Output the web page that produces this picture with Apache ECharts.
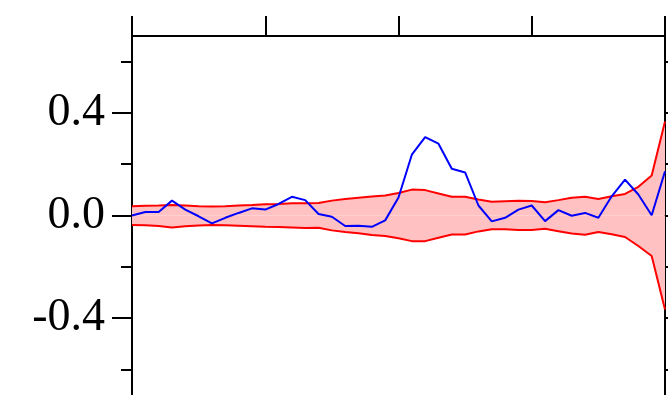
<!DOCTYPE html>
<html>
<head>
<meta charset="utf-8">
<script src="https://cdn.jsdelivr.net/npm/echarts@6/dist/echarts.min.js"></script>
<style>html,body{margin:0;padding:0;background:#fff;}#c{width:668px;height:395px;}</style>
</head>
<body>
<div id="c"></div>
<script>
var xTicks = [0, 10, 20, 30, 40];
var yLabelTicks = [-0.4, 0.0, 0.4];
var yMinorTicks = [-0.6, -0.2, 0.2, 0.6];
var yRightTicks = [-0.6, -0.4, -0.2, 0.0, 0.2, 0.4, 0.6];

var blue = [0.000, 0.014, 0.014, 0.058, 0.023, -0.003, -0.031, -0.009, 0.010, 0.028,
            0.023, 0.045, 0.073, 0.060, 0.006, -0.005, -0.041, -0.040, -0.044, -0.019,
            0.070, 0.237, 0.306, 0.280, 0.182, 0.168, 0.039, -0.023, -0.009, 0.023,
            0.039, -0.022, 0.021, -0.001, 0.010, -0.009, 0.075, 0.140, 0.082, 0.001,
            0.172];
var upper = [0.036, 0.038, 0.039, 0.041, 0.039, 0.036, 0.035, 0.036, 0.039, 0.041,
             0.044, 0.045, 0.048, 0.048, 0.049, 0.058, 0.064, 0.069, 0.074, 0.078,
             0.088, 0.101, 0.099, 0.086, 0.073, 0.073, 0.062, 0.054, 0.056, 0.058,
             0.057, 0.052, 0.060, 0.069, 0.073, 0.064, 0.075, 0.084, 0.112, 0.156,
             0.367];
var lower = [-0.037, -0.038, -0.041, -0.047, -0.042, -0.039, -0.037, -0.038, -0.040, -0.042,
             -0.044, -0.045, -0.047, -0.049, -0.048, -0.058, -0.064, -0.069, -0.076, -0.080,
             -0.089, -0.100, -0.100, -0.087, -0.074, -0.074, -0.062, -0.054, -0.054, -0.057,
             -0.057, -0.052, -0.061, -0.070, -0.075, -0.064, -0.073, -0.084, -0.119, -0.158,
             -0.367];

function pairs(arr) { return arr.map(function (v, i) { return [i, v]; }); }

var chart = echarts.init(document.getElementById('c'), null, {renderer: 'canvas'});
var axisLine = {show: true, onZero: false, lineStyle: {color: '#000', width: 2}};
var tickStyle = {color: '#000', width: 2};
var option = {
  animation: false,
  backgroundColor: '#fff',
  grid: {left: 132, top: 36, width: 533, height: 360, containLabel: false},
  xAxis: [
    {type: 'value', position: 'top', min: xTicks[0], max: xTicks[xTicks.length - 1], interval: 10,
     axisLine: axisLine, axisTick: {show: true, inside: false, length: 20, lineStyle: tickStyle},
     axisLabel: {show: false}, splitLine: {show: false}},
    {type: 'value', position: 'bottom', min: xTicks[0], max: xTicks[xTicks.length - 1], interval: 10,
     show: false}
  ],
  yAxis: [
    {type: 'value', position: 'left', min: -0.7, max: 0.7,
     axisLine: axisLine,
     axisTick: {show: true, length: 20, customValues: yLabelTicks, lineStyle: tickStyle},
     axisLabel: {show: true, customValues: yLabelTicks, margin: 27, color: '#000',
                 fontFamily: 'Liberation Serif', fontSize: 46,
                 formatter: function (v) { return v.toFixed(1); }},
     splitLine: {show: false}},
    {type: 'value', position: 'left', min: -0.7, max: 0.7,
     axisLine: {show: false, onZero: false},
     axisTick: {show: true, length: 11, customValues: yMinorTicks, lineStyle: tickStyle},
     axisLabel: {show: false}, splitLine: {show: false}},
    {type: 'value', position: 'right', min: -0.7, max: 0.7,
     axisLine: axisLine,
     axisTick: {show: true, length: 11, customValues: yRightTicks, lineStyle: tickStyle},
     axisLabel: {show: false}, splitLine: {show: false}}
  ],
  series: [
    {type: 'line', data: pairs(upper), symbol: 'none',
     lineStyle: {color: '#ff0000', width: 2},
     areaStyle: {color: 'rgb(255,193,193)', opacity: 1, origin: 0}, z: 3},
    {type: 'line', data: pairs(lower), symbol: 'none',
     lineStyle: {color: '#ff0000', width: 2},
     areaStyle: {color: 'rgb(255,193,193)', opacity: 1, origin: 0}, z: 3},
    {type: 'line', data: pairs(blue), symbol: 'none',
     lineStyle: {color: '#0000ff', width: 2}, z: 4}
  ]
};
chart.setOption(option);
</script>
</body>
</html>
